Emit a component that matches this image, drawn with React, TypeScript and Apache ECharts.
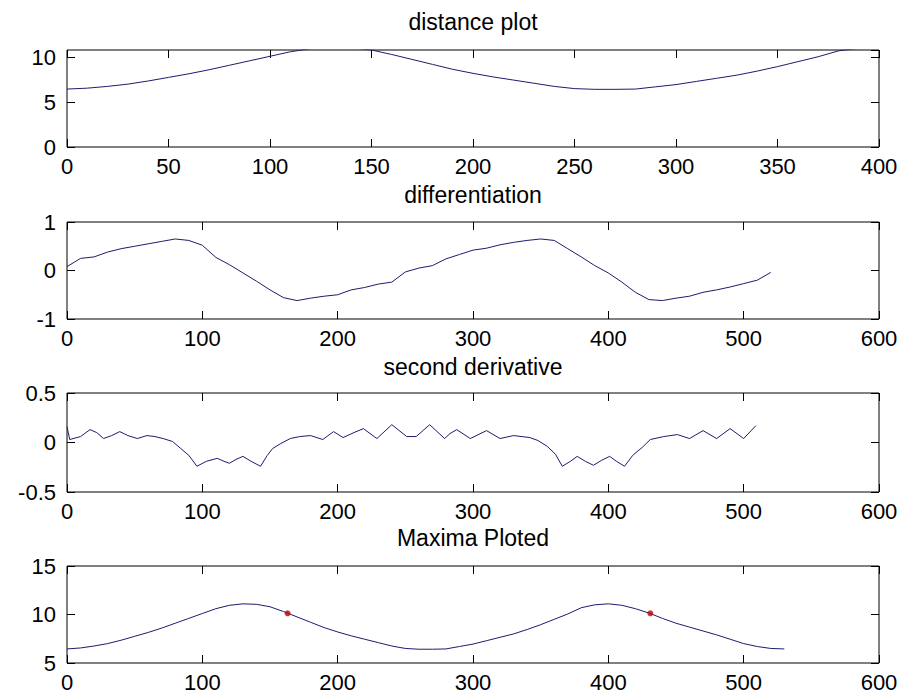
import React, { useEffect, useRef } from "react";
import * as echarts from "echarts";

// distance signal (sample index -> value)
const distanceX = [0, 10, 20, 30, 40, 50, 60, 70, 80, 90, 100, 110, 120, 130, 140, 150, 160, 170, 180, 190, 200, 210, 220, 230, 240, 250, 260, 270, 280, 290, 300, 310, 320, 330, 340, 350, 360, 370, 380, 390, 400, 410, 420, 430, 440, 450, 460, 470, 480, 490, 500, 510, 520, 530];
const distanceY = [6.45, 6.55, 6.75, 7.0, 7.35, 7.75, 8.15, 8.6, 9.1, 9.6, 10.1, 10.6, 10.95, 11.1, 11.05, 10.8, 10.3, 9.75, 9.2, 8.65, 8.2, 7.8, 7.45, 7.1, 6.75, 6.5, 6.42, 6.42, 6.45, 6.7, 6.95, 7.3, 7.65, 8.0, 8.45, 8.95, 9.5, 10.05, 10.7, 11.0, 11.1, 10.95, 10.6, 10.15, 9.6, 9.1, 8.7, 8.3, 7.9, 7.45, 7.0, 6.7, 6.5, 6.45];

// first derivative
const diffX = [0, 10, 20, 30, 40, 50, 60, 70, 80, 90, 100, 110, 120, 130, 140, 150, 160, 170, 180, 190, 200, 210, 220, 230, 240, 250, 260, 270, 280, 290, 300, 310, 320, 330, 340, 350, 360, 370, 380, 390, 400, 410, 420, 430, 440, 450, 460, 470, 480, 490, 500, 510, 520];
const diffY = [0.08, 0.25, 0.28, 0.38, 0.45, 0.5, 0.55, 0.6, 0.65, 0.62, 0.52, 0.27, 0.12, -0.05, -0.22, -0.4, -0.56, -0.62, -0.57, -0.53, -0.5, -0.4, -0.35, -0.28, -0.24, -0.03, 0.05, 0.1, 0.24, 0.33, 0.42, 0.46, 0.53, 0.58, 0.62, 0.65, 0.62, 0.45, 0.28, 0.1, -0.05, -0.24, -0.45, -0.6, -0.62, -0.57, -0.53, -0.45, -0.4, -0.34, -0.27, -0.2, -0.04];

// second derivative
const d2X = [0, 2, 10, 17, 22, 27, 33, 39, 45, 52, 59, 65, 71, 78, 84, 90, 96, 103, 111, 116, 120, 125, 130, 136, 143, 148, 152, 158, 165, 172, 180, 189, 197, 204, 212, 219, 229, 240, 251, 258, 268, 279, 283, 288, 298, 310, 320, 330, 342, 348, 355, 361, 366, 372, 377, 383, 389, 395, 401, 406, 412, 418, 425, 431, 441, 451, 460, 470, 480, 490, 500, 509];
const d2Y = [0.16, 0.03, 0.06, 0.13, 0.1, 0.04, 0.07, 0.11, 0.07, 0.04, 0.07, 0.06, 0.04, 0.01, -0.06, -0.13, -0.24, -0.19, -0.16, -0.19, -0.21, -0.17, -0.14, -0.19, -0.24, -0.13, -0.06, -0.01, 0.04, 0.06, 0.07, 0.03, 0.11, 0.05, 0.1, 0.14, 0.04, 0.18, 0.06, 0.06, 0.18, 0.04, 0.09, 0.13, 0.04, 0.12, 0.04, 0.07, 0.05, 0.02, -0.04, -0.12, -0.24, -0.19, -0.14, -0.19, -0.23, -0.18, -0.14, -0.19, -0.24, -0.13, -0.05, 0.03, 0.06, 0.08, 0.04, 0.12, 0.04, 0.14, 0.04, 0.17];

// detected maxima
const maximaX = [163, 431];
const maximaY = [10.12, 10.12];

const titles = ["distance plot", "differentiation", "second derivative", "Maxima Ploted"];

const FONT = "'Liberation Sans', Arial, Helvetica, sans-serif";
const LINE = "#1c1c6e";

const panels = [
  { top: 50, height: 97, titleY: 22, xMax: 400, xInt: 50, yMin: 0, yMax: 10.8, yInt: 5 },
  { top: 222, height: 97, titleY: 195, xMax: 600, xInt: 100, yMin: -1, yMax: 1, yInt: 1 },
  { top: 393, height: 99, titleY: 367, xMax: 600, xInt: 100, yMin: -0.5, yMax: 0.5, yInt: 0.5 },
  { top: 566, height: 97, titleY: 538, xMax: 600, xInt: 100, yMin: 5, yMax: 15, yInt: 5 },
];

const LEFT = 67;
const WIDTH = 812;

export default function App() {
  const ref = useRef<HTMLDivElement>(null);
  useEffect(() => {
    if (!ref.current) return;
    const chart = echarts.init(ref.current, undefined, { renderer: "svg" });
    const grid: any[] = [];
    const xAxis: any[] = [];
    const yAxis: any[] = [];
    const graphic: any[] = [];
    panels.forEach((p, i) => {
      grid.push({
        left: LEFT, top: p.top, width: WIDTH, height: p.height,
        show: true, borderColor: "#000", borderWidth: 1, backgroundColor: "transparent",
      });
      const tick = { show: true, inside: true, length: 8, lineStyle: { color: "#000", width: 1 } };
      const noLine = { show: false, onZero: false };
      xAxis.push({
        type: "value", gridIndex: i, position: "bottom", min: 0, max: p.xMax, interval: p.xInt,
        axisLine: noLine, splitLine: { show: false }, axisTick: tick,
        axisLabel: { color: "#000", fontSize: 22, fontFamily: FONT, margin: 8 },
      });
      xAxis.push({
        type: "value", gridIndex: i, position: "top", min: 0, max: p.xMax, interval: p.xInt,
        axisLine: noLine, splitLine: { show: false }, axisTick: tick,
        axisLabel: { show: false },
      });
      yAxis.push({
        type: "value", gridIndex: i, position: "left", min: p.yMin, max: p.yMax, interval: p.yInt,
        axisLine: noLine, splitLine: { show: false }, axisTick: tick,
        axisLabel: { color: "#000", fontSize: 22, fontFamily: FONT, margin: 11, showMaxLabel: p.yMax % p.yInt === 0 },
      });
      yAxis.push({
        type: "value", gridIndex: i, position: "right", min: p.yMin, max: p.yMax, interval: p.yInt,
        axisLine: noLine, splitLine: { show: false }, axisTick: tick,
        axisLabel: { show: false },
      });
      graphic.push({
        type: "text", x: LEFT + WIDTH / 2, y: p.titleY,
        style: {
          text: titles[i], fill: "#000", fontSize: 23, fontFamily: FONT,
          align: "center", verticalAlign: "middle", textAlign: "center", textVerticalAlign: "middle",
        },
      });
    });

    const lineSeries = (idx: number, xs: number[], ys: number[]) => ({
      type: "line", xAxisIndex: idx * 2, yAxisIndex: idx * 2,
      data: xs.map((x, k) => [x, ys[k]]),
      showSymbol: false, symbol: "none", clip: true,
      lineStyle: { color: LINE, width: 1 }, itemStyle: { color: LINE },
    });

    chart.setOption({
      animation: false,
      backgroundColor: "#fff",
      grid, xAxis, yAxis, graphic,
      series: [
        lineSeries(0, distanceX, distanceY),
        lineSeries(1, diffX, diffY),
        lineSeries(2, d2X, d2Y),
        lineSeries(3, distanceX, distanceY),
        {
          type: "scatter", xAxisIndex: 6, yAxisIndex: 6,
          data: maximaX.map((x, k) => [x, maximaY[k]]),
          symbol: "circle", symbolSize: 6,
          itemStyle: { color: "#c00000" }, z: 5,
        },
      ],
    });
    return () => chart.dispose();
  }, []);
  return <div ref={ref} style={{ position: "fixed", left: 0, top: 0, width: 903, height: 696, background: "#fff" }} />;
}
